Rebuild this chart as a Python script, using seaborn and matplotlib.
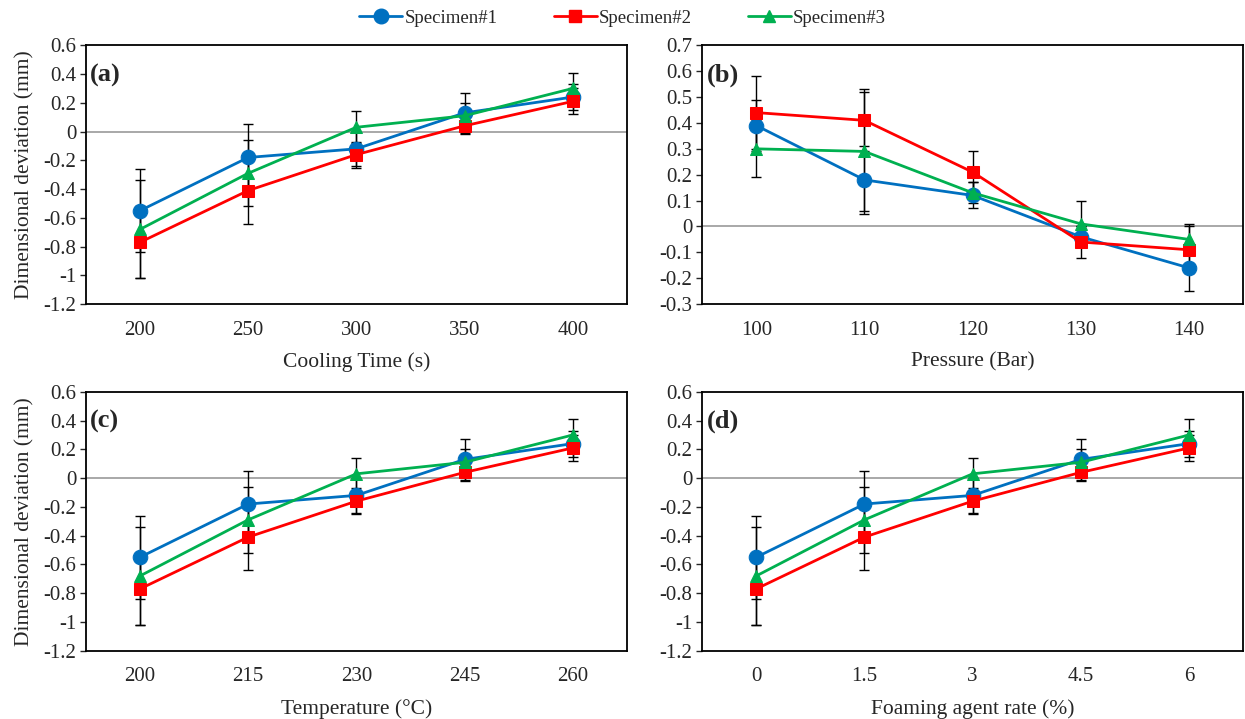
import numpy as np
import pandas as pd
import matplotlib
matplotlib.use("Agg")
import matplotlib.pyplot as plt
import seaborn as sns
from matplotlib.lines import Line2D

# data (panels a, c, d show the same values)
cooling_time = ["200", "250", "300", "350", "400"]
pressure = ["100", "110", "120", "130", "140"]
temperature = ["200", "215", "230", "245", "260"]
foaming_rate = ["0", "1.5", "3", "4.5", "6"]

spec1_a = [-0.55, -0.18, -0.12, 0.13, 0.24]
spec2_a = [-0.77, -0.41, -0.16, 0.04, 0.21]
spec3_a = [-0.68, -0.29, 0.03, 0.11, 0.30]
err1_a = [0.29, 0.23, 0.12, 0.14, 0.09]
err2_a = [0.25, 0.23, 0.09, 0.06, 0.09]
err3_a = [0.34, 0.23, 0.11, 0.09, 0.11]

spec1_b = [0.39, 0.18, 0.12, -0.04, -0.16]
spec2_b = [0.44, 0.41, 0.21, -0.06, -0.09]
spec3_b = [0.30, 0.29, 0.13, 0.01, -0.05]
err1_b = [0.10, 0.13, 0.05, 0.04, 0.09]
err2_b = [0.14, 0.12, 0.08, 0.06, 0.09]
err3_b = [0.11, 0.23, 0.04, 0.09, 0.06]

names = ["Specimen#1", "Specimen#2", "Specimen#3"]
colors = ["#0070C0", "#FF0000", "#00B050"]
markers = ["o", "s", "^"]
msizes = [10.5, 8.5, 8]

sns.set_style("white")
plt.rcParams["font.family"] = ["Liberation Serif", "DejaVu Serif"]
plt.rcParams["axes.unicode_minus"] = False

fig = plt.figure(figsize=(12.45, 7.19), dpi=100)
w, h = 0.4345, 0.36
positions = [(0.069, 0.577), (0.564, 0.577), (0.069, 0.095), (0.564, 0.095)]

panels = [
    ("(a)", cooling_time, "Cooling Time (s)", (spec1_a, spec2_a, spec3_a), (err1_a, err2_a, err3_a), (-1.2, 0.6, 0.2)),
    ("(b)", pressure, "Pressure (Bar)", (spec1_b, spec2_b, spec3_b), (err1_b, err2_b, err3_b), (-0.3, 0.7, 0.1)),
    ("(c)", temperature, "Temperature (°C)", (spec1_a, spec2_a, spec3_a), (err1_a, err2_a, err3_a), (-1.2, 0.6, 0.2)),
    ("(d)", foaming_rate, "Foaming agent rate (%)", (spec1_a, spec2_a, spec3_a), (err1_a, err2_a, err3_a), (-1.2, 0.6, 0.2)),
]

for i, (tag, cats, xlabel, series, errs, (ymin, ymax, step)) in enumerate(panels):
    ax = fig.add_axes([positions[i][0], positions[i][1], w, h])
    xpos = np.arange(len(cats))
    ax.axhline(0, color="#9a9a9a", lw=1.2, zorder=1)
    for vals, err, name, c, m, ms in zip(series, errs, names, colors, markers, msizes):
        ax.errorbar(xpos, vals, yerr=err, fmt="none", ecolor="black",
                    elinewidth=1.0, capsize=3.5, capthick=1.0, zorder=2)
        df = pd.DataFrame({"x": xpos, "y": vals})
        sns.lineplot(data=df, x="x", y="y", ax=ax, color=c, marker=m,
                     markersize=ms, markeredgecolor=c, linewidth=2,
                     zorder=3, label=name, legend=False)
    ax.set_xlim(-0.5, len(cats) - 0.5)
    ax.set_ylim(ymin, ymax)
    ticks = np.round(np.arange(ymin, ymax + step / 2, step), 2)
    ax.set_yticks(ticks)
    ax.set_yticklabels([f"{t:g}" if abs(t) > 1e-9 else "0" for t in ticks])
    ax.set_xticks(xpos)
    ax.set_xticklabels(cats)
    ax.tick_params(axis="x", length=0, pad=12, labelsize=15)
    ax.tick_params(axis="y", direction="out", length=4, width=1, labelsize=15,
                   left=True, pad=3)
    ax.set_xlabel(xlabel, fontsize=15.5, labelpad=9)
    if i % 2 == 0:
        ax.set_ylabel("Dimensional deviation (mm)", fontsize=15.5, labelpad=6)
    else:
        ax.set_ylabel("")
    for s in ax.spines.values():
        s.set_color("black")
        s.set_linewidth(1.3)
    ax.text(0.008, 0.885, tag, transform=ax.transAxes, fontsize=19,
            fontweight="bold", ha="left", va="center")

handles = [Line2D([], [], color=c, marker=m, markersize=ms, linewidth=2)
           for c, m, ms in zip(colors, markers, msizes)]
fig.legend(handles, names, loc="center", bbox_to_anchor=(0.5, 0.975), ncol=3,
           frameon=False, fontsize=13.5, handlelength=2.3, handletextpad=0.1,
           columnspacing=3.0)

fig.savefig("out.png", dpi=100)
